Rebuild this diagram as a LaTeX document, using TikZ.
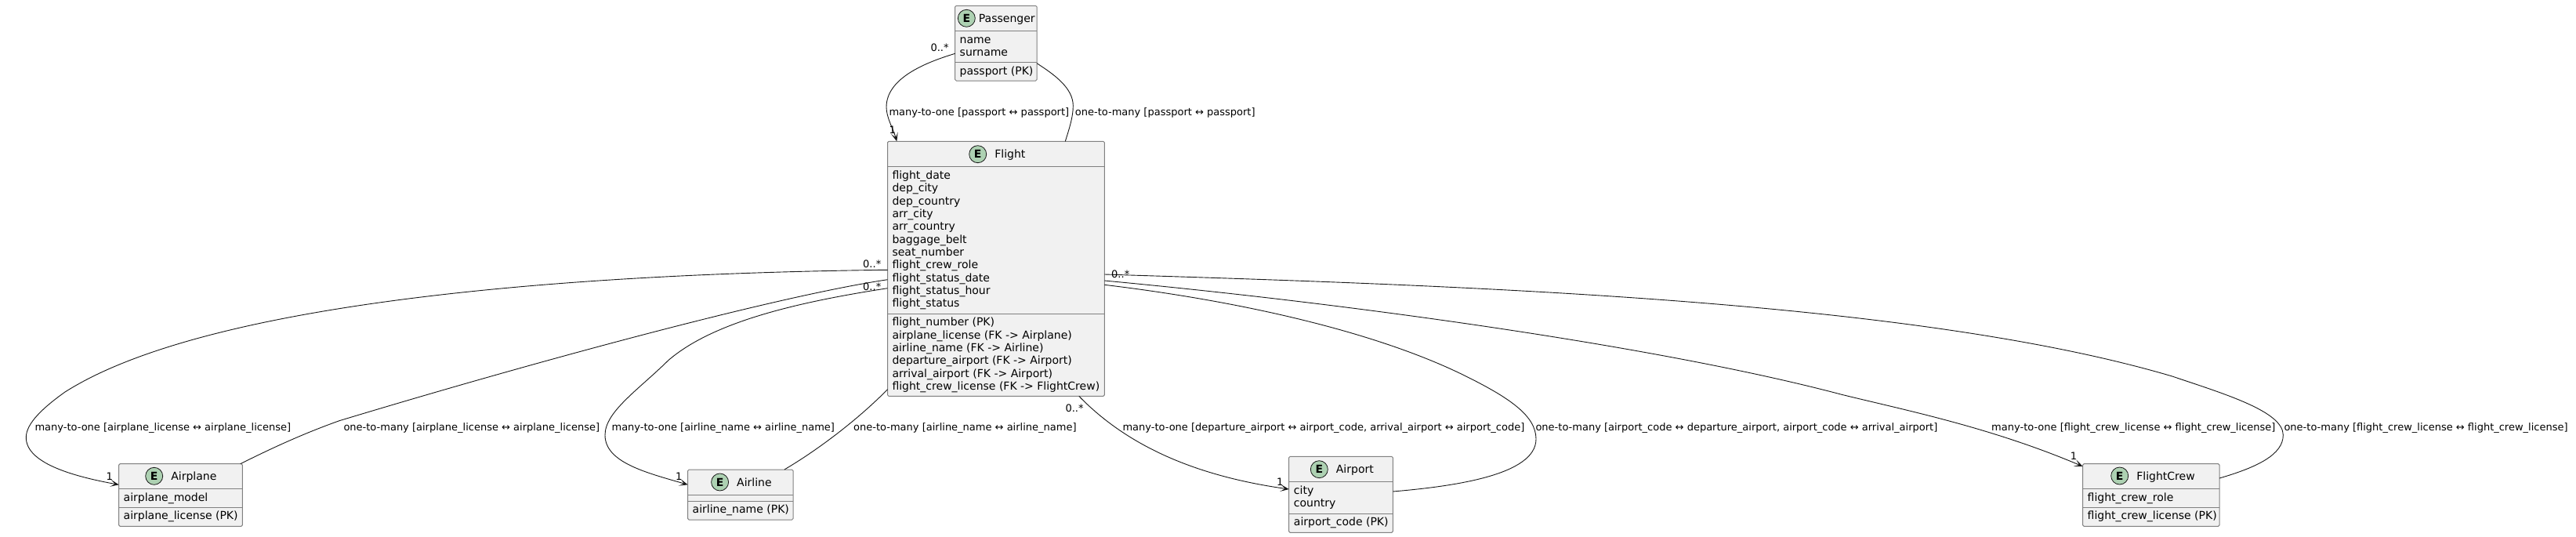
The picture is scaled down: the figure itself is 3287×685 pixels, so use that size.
\documentclass[tikz,border=0pt]{standalone}
\usepackage{fontspec}
\setmainfont{DejaVu Sans}
\usetikzlibrary{arrows.meta, calc, positioning}
\definecolor{boxfill}{HTML}{F1F1F1}
\definecolor{spotfill}{HTML}{ADD1B2}
\definecolor{inkline}{HTML}{181818}
\tikzstyle{entity} = [rectangle, anchor=north west, inner sep=0pt, outer sep=0pt, rounded corners=1.5pt, draw=black!50, line width=1pt, fill=boxfill]
\tikzstyle{rule} = [draw=black!50, line width=1pt]
\tikzstyle{spot} = [circle, minimum size=22pt, inner sep=0pt, draw=inkline, line width=0.8pt, fill=spotfill, font=\fontsize{14}{16}\selectfont\bfseries]
\tikzstyle{titletext} = [inner sep=0pt, text height=13pt, text depth=3pt, right=10pt of #1, font=\fontsize{14}{16}\selectfont]
\tikzstyle{members} = [anchor=north west, inner sep=0pt, align=left, font=\fontsize{14}{16.3}\selectfont]
\tikzstyle{edgetext} = [anchor=base west, inner sep=0pt, font=\fontsize{13}{15}\selectfont]
\tikzstyle{arrow} = [draw=inkline, line width=0.9pt, -{Stealth[length=11pt, width=9pt, inset=6pt]}]
\tikzstyle{plain} = [draw=inkline, line width=0.9pt]

\begin{document}
\begin{tikzpicture}[x=1pt, y=-1pt]
\useasboundingbox (0,0) rectangle (3287,685);

% Passenger
\node (passenger) [entity, minimum width=104.3pt, minimum height=95.7pt] at (1218.7,7.3) {};
\draw [rule] ($(passenger.north west)+(0,32)$) -- ($(passenger.north east)+(0,32)$);
\draw [rule] ($(passenger.north west)+(0,72)$) -- ($(passenger.north east)+(0,72)$);
\node (passengerspot) [spot] at (1233.3,23.3) {E};
\node (passengertitle) [titletext=passengerspot, xshift=-6pt] {Passenger};
\node (passengerfields) [members] at (1224.5,43.4) {\strut name\\surname};
\node (passengerkey) [members] at (1224.5,83.4) {\strut passport (PK)};

% Flight
\node (flight) [entity, minimum width=276.8pt, minimum height=325pt] at (1132.5,180.3) {};
\draw [rule] ($(flight.north west)+(0,32.4)$) -- ($(flight.north east)+(0,32.4)$);
\draw [rule] ($(flight.north west)+(0,220)$) -- ($(flight.north east)+(0,220)$);
\node (flightspot) [spot] at (1247.7,196.7) {E};
\node (flighttitle) [titletext=flightspot] {Flight};
\node (flightfields) [members] at (1138.3,217) {\strut flight\_date\\dep\_city\\dep\_country\\arr\_city\\arr\_country\\baggage\_belt\\seat\_number\\flight\_crew\_role\\flight\_status\_date\\flight\_status\_hour\\flight\_status};
\node (flightkeys) [members] at (1138.3,404.3) {\strut flight\_number (PK)\\airplane\_license (FK -> Airplane)\\airline\_name (FK -> Airline)\\departure\_airport (FK -> Airport)\\arrival\_airport (FK -> Airport)\\flight\_crew\_license (FK -> FlightCrew)};

% Airplane
\node (airplane) [entity, minimum width=157.6pt, minimum height=79.6pt] at (151.7,591.7) {};
\draw [rule] ($(airplane.north west)+(0,31.6)$) -- ($(airplane.north east)+(0,31.6)$);
\draw [rule] ($(airplane.north west)+(0,55.3)$) -- ($(airplane.north east)+(0,55.3)$);
\node (airplanespot) [spot] at (196.7,607.3) {E};
\node (airplanetitle) [titletext=airplanespot] {Airplane};
\node (airplanefields) [members] at (157.5,627.4) {\strut airplane\_model};
\node (airplanekey) [members] at (157.5,651) {\strut airplane\_license (PK)};

% Airline
\node (airline) [entity, minimum width=134.3pt, minimum height=64pt] at (877.7,599) {};
\draw [rule] ($(airline.north west)+(0,32.3)$) -- ($(airline.north east)+(0,32.3)$);
\draw [rule] ($(airline.north west)+(0,40.3)$) -- ($(airline.north east)+(0,40.3)$);
\node (airlinespot) [spot] at (918.6,615) {E};
\node (airlinetitle) [titletext=airlinespot] {Airline};
\node (airlinekey) [members] at (883.5,643) {\strut airline\_name (PK)};

% Airport
\node (airport) [entity, minimum width=132.6pt, minimum height=97pt] at (1644.7,582.3) {};
\draw [rule] ($(airport.north west)+(0,32)$) -- ($(airport.north east)+(0,32)$);
\draw [rule] ($(airport.north west)+(0,72.7)$) -- ($(airport.north east)+(0,72.7)$);
\node (airportspot) [spot] at (1683.3,598.7) {E};
\node (airporttitle) [titletext=airportspot] {Airport};
\node (airportfields) [members] at (1650.7,618.4) {\strut city\\country};
\node (airportkey) [members] at (1650.7,659) {\strut airport\_code (PK)};

% FlightCrew
\node (flightcrew) [entity, minimum width=174.3pt, minimum height=79.6pt] at (2657.7,591.7) {};
\draw [rule] ($(flightcrew.north west)+(0,32)$) -- ($(flightcrew.north east)+(0,32)$);
\draw [rule] ($(flightcrew.north west)+(0,55.6)$) -- ($(flightcrew.north east)+(0,55.6)$);
\node (flightcrewspot) [spot] at (2704.7,607) {E};
\node (flightcrewtitle) [titletext=flightcrewspot] {FlightCrew};
\node (flightcrewfields) [members] at (2663.5,627.6) {\strut flight\_crew\_role};
\node (flightcrewkey) [members] at (2663.5,651) {\strut flight\_crew\_license (PK)};

% Connectors
\draw [arrow] ([yshift=-13.15pt]passenger.west) .. controls (1180,80) and (1131,100) .. (1131,136.7) .. controls (1131,150) and (1140,165) .. ([xshift=-126.6pt]flight.north);
\draw [plain] ([yshift=-25.55pt]passenger.east) .. controls (1345,95) and (1369.3,112) .. (1369.3,135) .. controls (1369.3,150) and (1364,165) .. ([xshift=88.4pt]flight.north);
\draw [arrow] ([yshift=-1.5pt]flight.west) .. controls (800,348) and (280,375) .. (83,500) .. controls (55,520) and (33.3,540) .. (33.3,558) .. controls (33.3,590) and (90,607) .. ([yshift=13.2pt]airplane.west);
\draw [plain] ([yshift=-13.9pt]flight.west) .. controls (990,378) and (680,462) .. (433,536.7) .. controls (390,552) and (350,570) .. ([xshift=76.2pt]airplane.north);
\draw [arrow] ([yshift=-24.9pt]flight.west) .. controls (1020,385) and (910,410) .. (852.4,460) .. controls (815,497) and (772,525) .. (772,555) .. controls (772,590) and (825,603) .. ([yshift=12.7pt]airline.west);
\draw [plain] ([yshift=-153.9pt]flight.west) .. controls (1100,530) and (1050,570) .. ([xshift=56.05pt]airline.north);
\draw [arrow] ([xshift=105.8pt]flight.south) .. controls (1430,560) and (1510,605) .. ([yshift=6.8pt]airport.west);
\draw [plain] ([yshift=-20.5pt]flight.east) .. controls (1590,385) and (1760,425) .. (1870.7,480) .. controls (1925,507) and (1960,530) .. (1960,560) .. controls (1960,605) and (1860,620) .. ([yshift=3.8pt]airport.east);
\draw [arrow] ([yshift=-15.2pt]flight.east) .. controls (1750,390) and (2130,445) .. (2350,503.3) .. controls (2430,523) and (2540,545) .. ([yshift=36.5pt]flightcrew.west);
\draw [plain] ([yshift=-7.2pt]flight.east) .. controls (1900,365) and (2450,385) .. (2771.7,480) .. controls (2840,503) and (2913.3,525) .. (2913.3,555) .. controls (2913.3,580) and (2880,596) .. ([yshift=21.5pt]flightcrew.east);

% Labels on the connectors
\node (passengerto) [edgetext] at (1134.3,147.3) {many-to-one [passport ↔ passport]};
\node (flightfrompassenger) [edgetext] at (1371.7,147.3) {one-to-many [passport ↔ passport]};
\node (airplaneto) [edgetext] at (44.3,549.3) {many-to-one [airplane\_license ↔ airplane\_license]};
\node (airplanefrom) [edgetext] at (438.3,549.3) {one-to-many [airplane\_license ↔ airplane\_license]};
\node (airlineto) [edgetext] at (780.4,549.3) {many-to-one [airline\_name ↔ airline\_name]};
\node (airlinefrom) [edgetext] at (1089,549.3) {one-to-many [airline\_name ↔ airline\_name]};
\node (airportto) [edgetext] at (1432.3,549.3) {many-to-one [departure\_airport ↔ airport\_code, arrival\_airport ↔ airport\_code]};
\node (airportfrom) [edgetext] at (1959.3,549.3) {one-to-many [airport\_code ↔ departure\_airport, airport\_code ↔ arrival\_airport]};
\node (crewto) [edgetext] at (2541,549.3) {many-to-one [flight\_crew\_license ↔ flight\_crew\_license]};
\node (crewfrom) [edgetext] at (2914.3,549.3) {one-to-many [flight\_crew\_license ↔ flight\_crew\_license]};

% Multiplicities
\node (manypassenger) [edgetext] at (1187.3,66) {0..*};
\node (oneflight) [edgetext] at (1134.5,170) {1};
\node (manyairplane) [edgetext] at (1101,341.7) {0..*};
\node (oneairplane) [edgetext] at (135.5,612.3) {1};
\node (manyairline) [edgetext] at (1101,370) {0..*};
\node (oneairline) [edgetext] at (862,612.7) {1};
\node (manyairport) [edgetext] at (1359.3,525.7) {0..*};
\node (oneairport) [edgetext] at (1629,619.3) {1};
\node (manycrew) [edgetext] at (1418,354.7) {0..*};
\node (onecrew) [edgetext] at (2641.7,586.7) {1};

\end{tikzpicture}
\end{document}
